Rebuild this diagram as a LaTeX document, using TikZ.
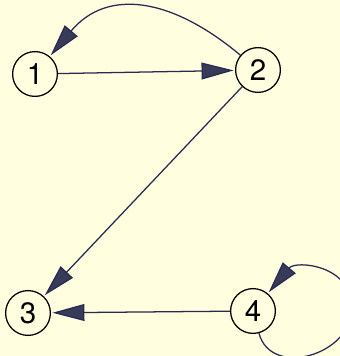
\documentclass[tikz,border=0pt]{standalone}
\usepackage{fontspec}
\setmainfont{TeX Gyre Heros}
\usetikzlibrary{arrows.meta}
\definecolor{Paper}{rgb}{1.0, 1.0, 0.88}
\definecolor{Ink}{rgb}{0.16, 0.16, 0.32}
\definecolor{TipFill}{rgb}{0.22, 0.23, 0.34}

\begin{document}
\begin{tikzpicture}[
  state/.style={
    draw,
    circle,
    minimum size=1.12cm,
    inner sep=0pt,
    line width=0.9pt,
    font=\fontsize{21}{24}\selectfont
  },
  edge/.style={
    -{Triangle[length=8mm, width=4.2mm, fill=TipFill]},
    line width=0.9pt,
    color=Ink,
    shorten >=1pt
  }
]

% Background
\fill[Paper] (0,0) rectangle (8.5,8.9);
\useasboundingbox (0,0) rectangle (8.5,8.9);

% Nodes
\node[state] (n1) at (0.875,7.05) {1};
\node[state] (n2) at (6.45,7.15)  {2};
\node[state] (n3) at (0.7,1.075)  {3};
\node[state] (n4) at (6.325,1.125) {4};
\coordinate (loopR) at (8.8,1.2);

% Edges
\draw[edge] (n1) -- (n2);
\draw[edge] (n2) to[out=140, in=50, looseness=1.2] (n1);
\draw[edge] (n2) -- (n3);
\draw[edge] (n4) -- (n3);

% Self loop
\draw[edge] (n4) to[out=-75, in=-90, looseness=1.25] (loopR)
  to[out=90, in=50, looseness=1.3] (n4);

\end{tikzpicture}
\end{document}
